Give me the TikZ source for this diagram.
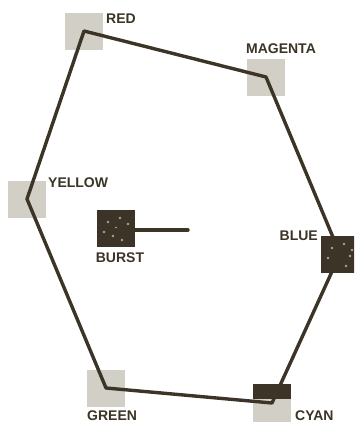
\documentclass[tikz,border=0pt]{standalone}
\usepackage{fontspec}
\setmainfont{Liberation Sans}
\definecolor{ink}{HTML}{3B3427}
\definecolor{lightsw}{HTML}{D2D0C6}
\begin{document}
\begin{tikzpicture}[x=1pt,y=-1pt,
  swatch/.style={draw=none,fill=lightsw,minimum width=38pt,minimum height=37pt,inner sep=0pt},
  darksw/.style={swatch,fill=ink},
  lbl/.style={font=\bfseries\fontsize{14}{15}\selectfont,text=ink,inner sep=0pt},
  edge/.style={draw=ink,line width=3.4pt,line join=round,line cap=round}]
\path[use as bounding box] (0,0) rectangle (354,423);
\clip (0,0) rectangle (354,423);
\fill[white] (0,0) rectangle (354,423);
% swatches
\node[swatch] (red) at (84,31) {};
\node[swatch] (magenta) at (266,77) {};
\node[swatch] (yellow) at (27,199) {};
\node[darksw] (burst) at (116,228) {};
\node[darksw] (blue) at (340,254) {};
\node[swatch] (green) at (106,388) {};
\node[swatch] (cyan) at (272,403) {};
\fill[ink] (cyan.north west) rectangle ([yshift=4pt]cyan.east);
% speckles on dark swatches
\foreach \dx/\dy in {-8/-6,4/-10,10/2,-3/8,6/12,-12/4,12/-4,0/0}{
  \fill[white,opacity=0.55] ([shift={(\dx,\dy)}]burst.center) circle (1.3pt);
  \fill[white,opacity=0.55] ([shift={(\dx,\dy)}]blue.center) circle (1.3pt);
}
% hexagon
\draw[edge] (red.center) -- (magenta.center) -- (blue.center) -- (cyan.center)
  -- (green.center) -- (yellow.center) -- cycle;
% burst pointer
\coordinate (burstend) at (188,230);
\draw[edge] (burst.center |- burstend) -- (burstend);
% labels
\node[lbl,anchor=west] (lred) at (106,18.5) {RED};
\node[lbl] (lmagenta) at (281,49) {MAGENTA};
\node[lbl,anchor=west] (lyellow) at (48,183) {YELLOW};
\node[lbl] (lburst) at (120,257.5) {BURST};
\node[lbl,anchor=east] (lblue) at (318,236) {BLUE};
\node[lbl,anchor=base west] (lgreen) at (87,420) {GREEN};
\node[lbl,anchor=base west] (lcyan) at (295,420) {CYAN};
\end{tikzpicture}
\end{document}
